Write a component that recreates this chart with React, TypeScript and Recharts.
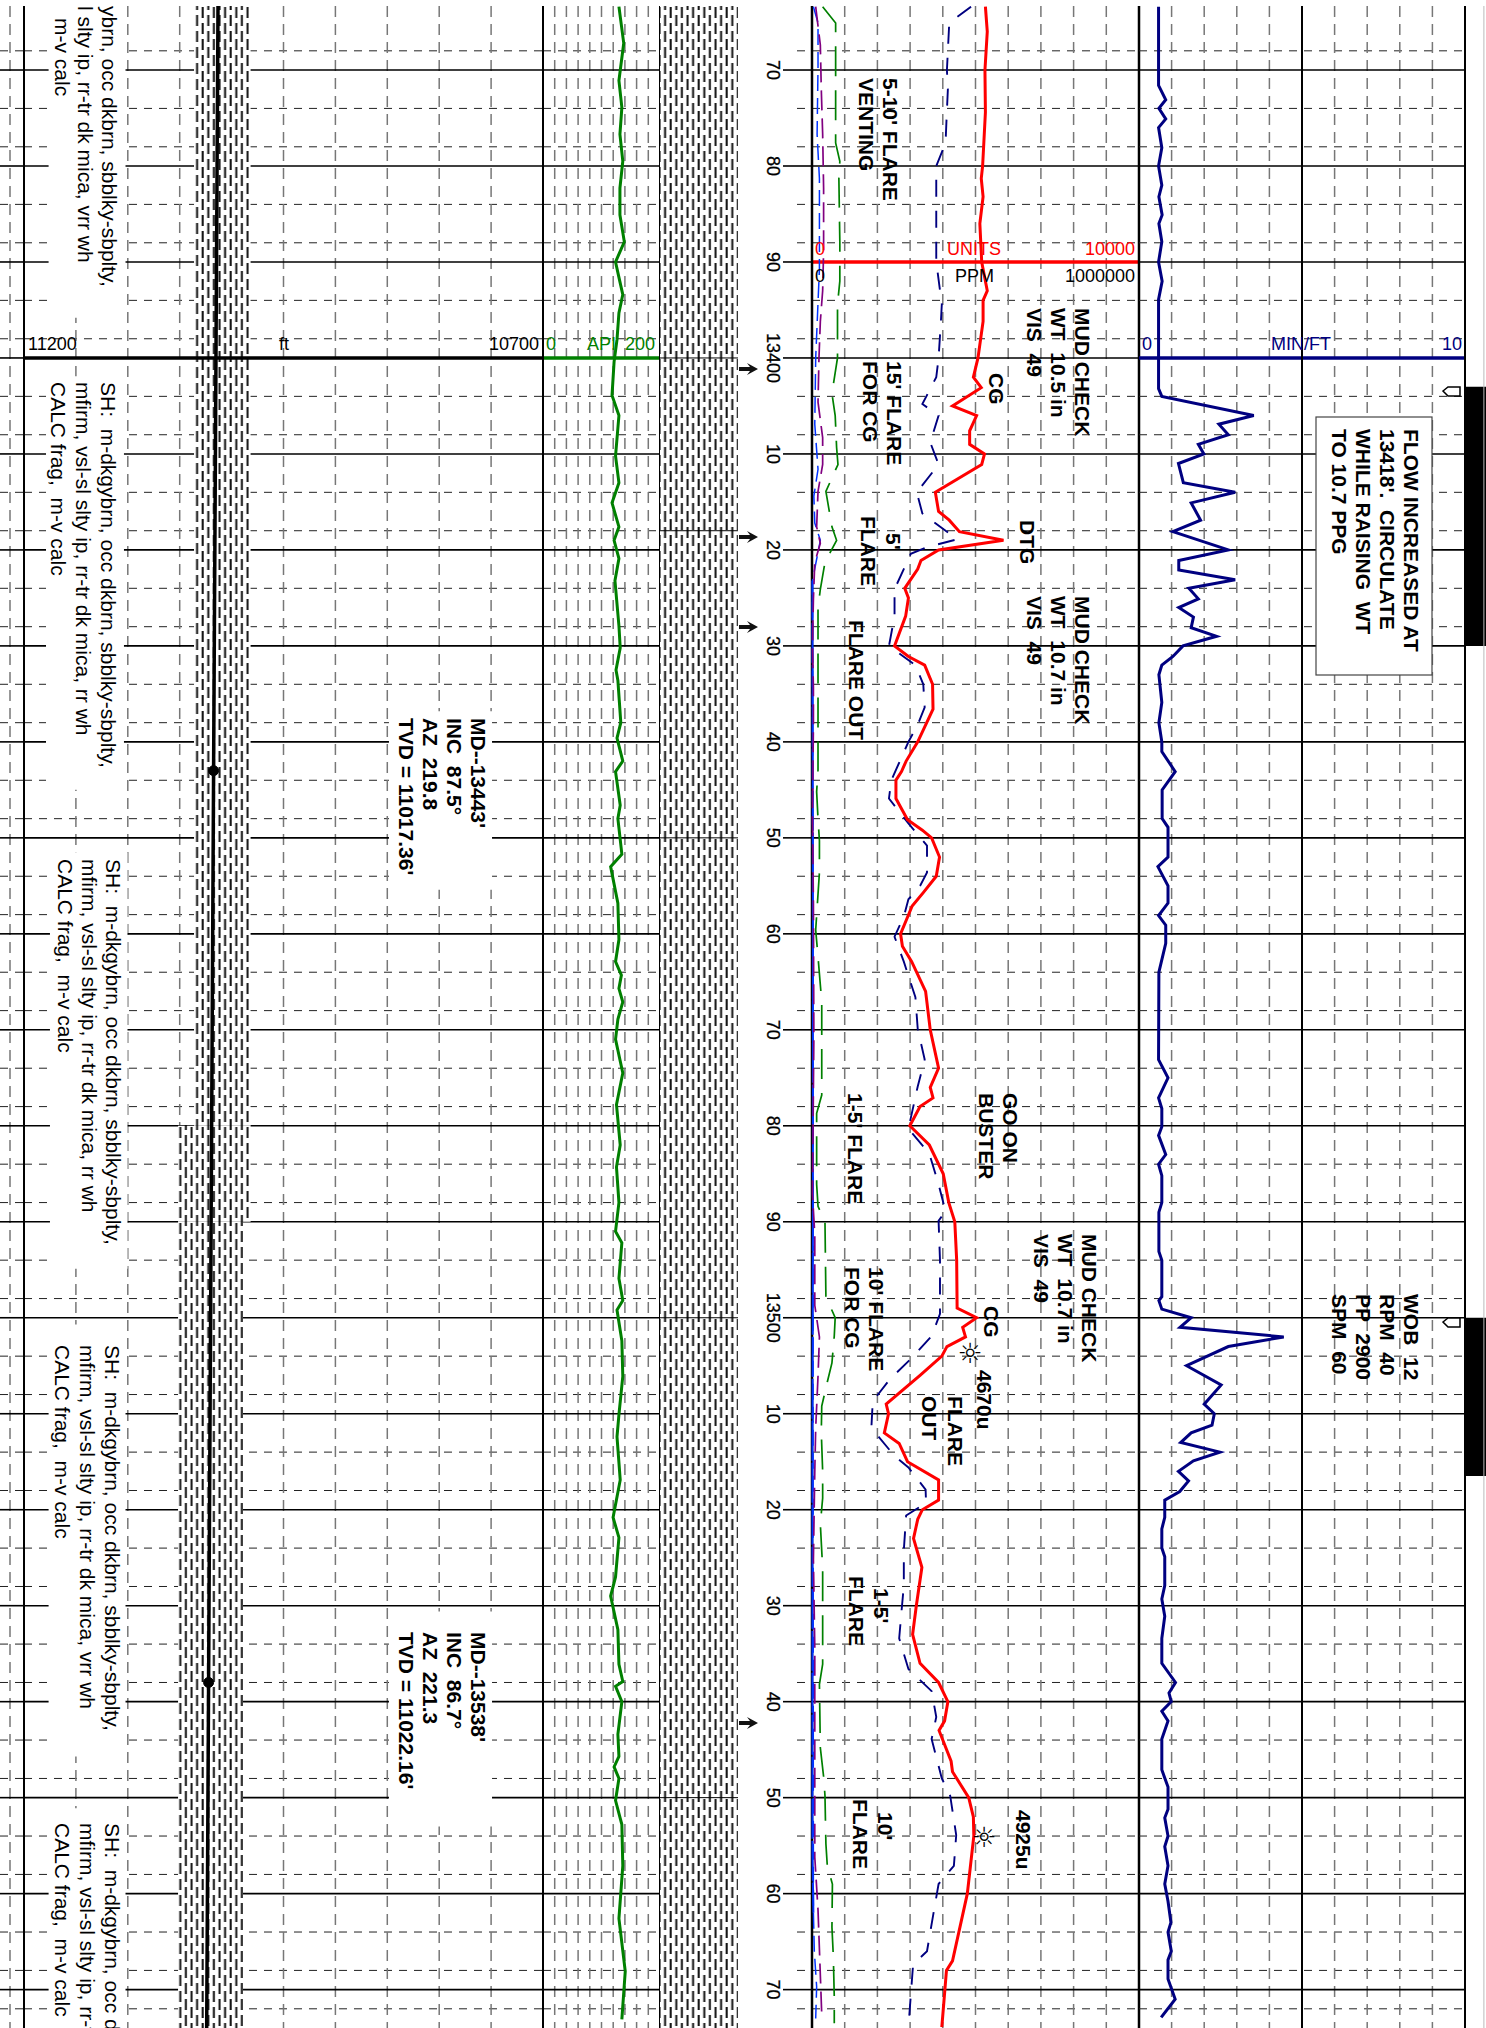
import React from 'react';
import { LineChart, Line, XAxis, YAxis, CartesianGrid, ReferenceLine, ReferenceArea } from 'recharts';

// depth window of the log strip
const DEPTH_TOP = 13363.33;
const DEPTH_BOTTOM = 13574;

const majorDepths = [13370, 13380, 13390, 13400, 13410, 13420, 13430, 13440, 13450, 13460, 13470, 13480, 13490, 13500, 13510, 13520, 13530, 13540, 13550, 13560, 13570];
const minorDepths = [13364, 13366, 13368, 13372, 13374, 13376, 13378, 13382, 13384, 13386, 13388, 13392, 13394, 13396, 13398, 13402, 13404, 13406, 13408, 13412, 13414, 13416, 13418, 13422, 13424, 13426, 13428, 13432, 13434, 13436, 13438, 13442, 13444, 13446, 13448, 13452, 13454, 13456, 13458, 13462, 13464, 13466, 13468, 13472, 13474, 13476, 13478, 13482, 13484, 13486, 13488, 13492, 13494, 13496, 13498, 13502, 13504, 13506, 13508, 13512, 13514, 13516, 13518, 13522, 13524, 13526, 13528, 13532, 13534, 13536, 13538, 13542, 13544, 13546, 13548, 13552, 13554, 13556, 13558, 13562, 13564, 13566, 13568, 13572];
const formationTops = [13400, 13418, 13450, 13500, 13550];

// total gas, units
const gasDepths = [13363.4, 13366, 13370, 13374.4, 13380, 13381.3, 13383.2, 13386, 13390, 13393, 13394, 13396.2, 13400, 13402, 13403.1, 13405, 13406, 13407.6, 13409, 13410, 13411.1, 13414, 13416, 13416.9, 13418.1, 13419, 13420, 13421.1, 13422, 13424, 13425, 13426.9, 13430, 13431.1, 13432, 13434, 13436.6, 13440, 13442, 13443.1, 13444, 13445.9, 13448.1, 13449.2, 13450, 13452, 13454, 13455.7, 13457.1, 13460, 13461.3, 13462.9, 13466, 13470, 13474, 13476, 13477.1, 13478, 13480, 13482, 13485, 13488, 13490, 13494, 13499, 13500, 13501, 13502, 13503, 13504, 13506, 13509, 13510, 13512, 13513.1, 13515, 13516.9, 13519, 13520, 13521, 13523, 13526, 13530, 13533, 13536, 13538, 13540, 13542, 13543, 13546.2, 13547.3, 13550, 13552, 13554, 13560, 13567, 13568, 13573.9];
const gasUnits = [5303, 5360, 5289, 5303, 5218, 5176, 5232, 5133, 5190, 5360, 5232, 5232, 5076, 4935, 5176, 4297, 5034, 4821, 4821, 5275, 5190, 3772, 3871, 4197, 4509, 5856, 3871, 3332, 3233, 2836, 2949, 2864, 2524, 2949, 3446, 3687, 3701, 3233, 2879, 2737, 2567, 2567, 2921, 3375, 3658, 3900, 3800, 3403, 3063, 2708, 2765, 3049, 3474, 3616, 3871, 3616, 3701, 3304, 2992, 3588, 4013, 4183, 4367, 4424, 4438, 5034, 4608, 4694, 4126, 3970, 3304, 2269, 2340, 2212, 2666, 2921, 3871, 3871, 3375, 3233, 3105, 3361, 3190, 3077, 3304, 3871, 4155, 4055, 3885, 4254, 4297, 4793, 4935, 4949, 4750, 4297, 4112, 3970];

// chromatograph curves, ppm
const navyDepths = [13363.4, 13365.1, 13370, 13372, 13375.3, 13377.6, 13380, 13390, 13394.4, 13396.2, 13400, 13402, 13404.8, 13406, 13408.8, 13411.1, 13414, 13416.2, 13418.9, 13419.7, 13420.4, 13424.1, 13426.9, 13430, 13432, 13434, 13436.4, 13438.2, 13440, 13444, 13445.9, 13448.5, 13450.8, 13453.6, 13455, 13456.4, 13458.2, 13460.3, 13462.9, 13466.6, 13469.9, 13473.1, 13475.9, 13479.2, 13480.3, 13482.9, 13486.1, 13488.9, 13489.9, 13494, 13499.6, 13501.9, 13504.3, 13506.4, 13508.7, 13511.5, 13514.4, 13515.6, 13517.9, 13519.3, 13520.6, 13524.2, 13527.9, 13530.6, 13533.4, 13536.6, 13538.9, 13541.6, 13543.9, 13548, 13549.8, 13553.9, 13557.1, 13559, 13562.6, 13566, 13567.4, 13573.9];
const navyPpm = [486400, 419700, 412600, 415500, 411200, 408400, 380000, 380000, 397000, 394200, 387100, 380000, 337500, 387100, 361600, 387100, 320500, 337500, 443800, 351700, 302000, 252400, 252400, 235400, 316200, 340300, 344600, 323300, 294900, 242500, 235400, 294900, 351700, 351700, 330400, 294900, 280800, 252400, 280800, 316200, 323300, 344600, 323300, 302000, 294900, 358800, 387100, 408400, 387100, 391400, 391400, 365800, 302000, 238200, 185800, 181500, 252400, 294900, 347400, 348800, 287900, 280800, 280800, 273700, 266600, 294900, 365800, 380000, 365800, 397000, 422600, 441000, 433900, 387100, 368700, 351700, 309100, 294900];

const greenDepths = [13363.4, 13365.1, 13370, 13377.6, 13379.5, 13381.3, 13387.9, 13392, 13394.4, 13400, 13403.7, 13406, 13409.3, 13411.1, 13413.9, 13417.6, 13419, 13421.3, 13424.1, 13426, 13434.4, 13442.9, 13445.2, 13448, 13450.3, 13453.6, 13459.6, 13462.4, 13467.1, 13476.8, 13478.7, 13486.1, 13488.4, 13490, 13497.8, 13500, 13501.9, 13504.7, 13506.7, 13509.2, 13511.9, 13516, 13518.8, 13521.5, 13526.1, 13536.1, 13538.2, 13544.8, 13547.8, 13549.8, 13554.8, 13557.1, 13559, 13563.5, 13566.5, 13570.8, 13573.5];
const greenPpm = [32600, 72300, 72300, 72300, 85100, 82200, 85100, 85100, 78000, 78000, 61000, 70900, 75200, 79400, 42500, 61000, 75200, 39700, 25500, 18400, 18400, 18400, 14200, 18400, 22700, 22700, 11300, 18400, 29800, 29800, 14200, 14200, 18400, 39700, 42500, 70900, 68100, 61000, 46800, 29800, 28400, 32600, 32600, 25500, 32600, 32600, 22700, 25500, 35500, 39700, 42500, 46800, 62400, 61000, 65200, 68100, 68100];

const purpleDepths = [13363.4, 13367.4, 13372, 13376.7, 13382.3, 13388.8, 13393, 13396.2, 13400, 13404.6, 13408.3, 13411.1, 13413.9, 13417.6, 13419.3, 13421.3, 13425.1, 13430, 13434.4, 13438.2, 13447.5, 13456.8, 13470.8, 13487.1, 13491.3, 13498.7, 13502, 13506.1, 13511.5, 13516, 13525.2, 13534.3, 13556.2, 13561.7, 13568.5, 13572.6];
const purplePpm = [11300, 25500, 28400, 32600, 35500, 35500, 32600, 25500, 21300, 18400, 32600, 32600, 18400, 14200, 25500, 8500, 4300, 1400, 4300, 4300, 1400, 4300, 5700, 1400, 8500, 8500, 22700, 18400, 11300, 8500, 4300, 8500, 8500, 18400, 25500, 29800];

const blueDepths = [13363.4, 13365.1, 13369.7, 13376.7, 13381.3, 13390.7, 13400, 13406.9, 13411.6, 13414.4, 13417.2, 13419, 13423.2, 13423.3, 13562, 13566, 13569.7, 13573];
const bluePpm = [4300, 18400, 18400, 15600, 22700, 22700, 11300, 8500, 18400, 5700, 8500, 25500, 1400, null, 4300, 7100, 14200, 11300];
const baseBlueDepths = [13423.2, 13455, 13490, 13515, 13556, 13562];
const baseBluePpm = [1400, 2800, 2800, 1400, 1400, 4300];

// rate of penetration, min/ft
const ropDepths = [13363.4, 13371.6, 13373.1, 13374, 13375.1, 13376, 13378.1, 13380, 13382, 13383.2, 13385.1, 13386, 13387.9, 13390, 13392, 13393.9, 13403.2, 13404, 13406, 13406.9, 13408, 13409, 13410, 13411, 13413, 13414, 13415.1, 13416.9, 13418.1, 13420, 13421.1, 13422.1, 13423.1, 13424, 13425.1, 13426, 13427, 13428.1, 13429, 13430, 13431.1, 13432, 13433, 13435.9, 13438, 13440, 13441, 13443.1, 13445, 13448, 13448.9, 13452, 13453, 13455, 13456.8, 13458.1, 13459.1, 13461, 13464, 13473.1, 13475, 13477.1, 13478.2, 13480.1, 13481, 13483, 13484, 13485.2, 13488, 13489, 13493.1, 13494, 13497.8, 13498.2, 13499.1, 13500, 13501, 13502, 13503, 13505, 13507, 13509, 13510, 13511.2, 13512, 13513, 13514, 13514.9, 13516, 13517, 13518.1, 13519, 13520.8, 13522, 13524, 13524.9, 13527.9, 13529.3, 13531.1, 13533.4, 13536, 13538, 13539.1, 13540, 13541, 13542, 13543.9, 13547.1, 13548.9, 13551.2, 13552.1, 13554, 13555.1, 13557.1, 13559, 13560.8, 13563, 13564, 13566, 13566.9, 13568.9, 13571, 13572.9];
const ropValues = [0.6, 0.6, 0.82, 0.61, 0.82, 0.6, 0.7, 0.6, 0.7, 0.61, 0.71, 0.61, 0.7, 0.6, 0.71, 0.6, 0.6, 0.7, 3.52, 2.45, 2.74, 1.82, 1.99, 1.21, 1.36, 2.95, 1.6, 1.89, 1.04, 2.74, 1.22, 1.22, 2.95, 1.53, 1.82, 1.22, 1.67, 1.6, 2.38, 1.35, 1.04, 0.7, 0.61, 0.7, 0.61, 0.7, 0.7, 1.11, 0.71, 0.71, 0.89, 0.89, 0.58, 0.89, 0.89, 0.6, 0.82, 0.82, 0.61, 0.6, 0.89, 0.6, 0.7, 0.7, 0.6, 0.82, 0.6, 0.7, 0.7, 0.61, 0.61, 0.7, 0.7, 0.61, 0.7, 1.6, 1.26, 4.44, 2.74, 1.46, 2.52, 2.0, 2.31, 2.24, 1.6, 1.28, 2.48, 1.67, 1.21, 1.52, 1.25, 0.79, 0.79, 0.7, 0.7, 0.79, 0.79, 0.7, 0.79, 0.7, 0.7, 1.12, 0.92, 0.99, 0.7, 0.89, 0.7, 0.7, 0.89, 0.89, 0.79, 0.89, 0.79, 0.89, 0.79, 0.89, 0.98, 0.89, 0.99, 0.89, 0.89, 1.11, 0.68];

// gamma ray, API
const gammaDepths = [13363.4, 13367.2, 13371.1, 13373.9, 13376.7, 13379.5, 13382.3, 13385.1, 13387.9, 13390, 13391.6, 13393.4, 13395.3, 13398.1, 13400.4, 13403.9, 13406, 13410.2, 13413, 13415.1, 13417.6, 13419, 13420.9, 13423.2, 13427.9, 13430.2, 13432.5, 13433.6, 13438, 13439.6, 13442, 13443.1, 13446.6, 13448, 13451.7, 13453, 13456.8, 13460.6, 13462.9, 13464.3, 13465.7, 13467.1, 13468.9, 13471, 13474.5, 13477.8, 13482, 13484.3, 13488, 13491, 13492.2, 13495.9, 13498.2, 13499.2, 13502.4, 13506.1, 13510.1, 13512.4, 13516.9, 13520.8, 13522.9, 13527, 13529, 13532.5, 13536.1, 13537.9, 13538.4, 13540, 13543.4, 13545.7, 13546.8, 13548, 13550.3, 13552.8, 13557.1, 13562.6, 13568.1, 13573.1];
const gammaApi = [129.8, 138, 129.8, 134.8, 131.5, 136.4, 131.5, 131.5, 139, 124, 129.8, 136.4, 129.8, 126.5, 121.5, 118, 129.8, 124, 129.8, 118, 129.8, 121.5, 129.8, 123, 129.8, 132, 124.8, 128, 133, 126.5, 136.4, 124, 132, 128, 134.8, 115.6, 128, 129.8, 124, 134, 129.8, 136.4, 128, 124, 136.4, 125.6, 132, 125.6, 129.8, 124, 134.8, 129.8, 136.4, 126.5, 134.8, 136.4, 129.8, 126.5, 132, 119.8, 129.8, 124, 115.6, 128, 129.8, 136.4, 124, 134.8, 128, 129.8, 121.5, 129.8, 124, 134.8, 136.4, 129.8, 140.6, 134.8];

// well path, true vertical depth against measured depth
const pathDepths = [13363.33, 13443, 13538, 13574];
const pathTvd = [11013.1, 11017.36, 11022.16, 11024];
const surveyDepths = [13443, 13538];
const surveyTvd = [11017.36, 11022.16];

const toRows = (depths: number[], values: (number | null)[]) => depths.map((depth, i) => ({ depth, value: values[i] }));

const Track = ({ left, width, domain, reversed, verticals, minor = true, major = true, children }: any) => {
  const pad = 3;
  return (
    <div style={{ position: 'absolute', left: left - pad, top: 6 }}>
      <LineChart width={width + pad * 2} height={2022} layout="vertical" margin={{ top: 0, bottom: 0, left: pad, right: pad }}>
        <defs>
          <pattern id="shale" width="11.2" height="16" patternUnits="userSpaceOnUse">
            <rect width="11.2" height="16" fill="#fff" />
            <rect x="1.5" y="1" width="2" height="11" fill="#111" />
            <rect x="7.1" y="9" width="2" height="11" fill="#111" />
            <rect x="7.1" y="-7" width="2" height="11" fill="#111" />
          </pattern>
        </defs>
        <XAxis type="number" domain={domain} reversed={reversed} hide interval={0} allowDataOverflow />
        <YAxis type="number" dataKey="depth" domain={[DEPTH_TOP, DEPTH_BOTTOM]} hide allowDataOverflow />
        {minor && <CartesianGrid vertical={false} horizontalValues={minorDepths} stroke="#222" strokeDasharray="8 7" />}
        {verticals && <CartesianGrid horizontal={false} verticalValues={verticals} stroke="#777" strokeWidth={1.5} strokeDasharray="11 7" />}
        {major && <CartesianGrid vertical={false} horizontalValues={majorDepths} stroke="#000" strokeWidth={1.6} />}
        {children}
      </LineChart>
    </div>
  );
};

const Note = ({ x, y, lines, size = 21, gap = 24, bold = true, color = '#000' }: any) => (
  <text transform={`translate(${x} ${y}) rotate(90)`} fontFamily="'Liberation Sans'" fontSize={size} fontWeight={bold ? 700 : 400} fill={color} xmlSpace="preserve">
    {lines.map((line: string, i: number) => (
      <tspan key={i} x={0} y={i * gap}>{line}</tspan>
    ))}
  </text>
);

const Head = ({ x, y, color = '#000', anchor = 'start', children }: any) => (
  <text x={x} y={y} fill={color} textAnchor={anchor} fontFamily="'Liberation Sans'" fontSize={18}>{children}</text>
);

const depthLabel = (d: number) => (d % 100 === 0 ? String(d) : String(d % 100));

const DepthTick = ({ y, payload }: any) => (
  <text transform={`translate(25 ${y}) rotate(90)`} textAnchor="middle" fontFamily="'Liberation Sans'" fontSize={18} fill="#000" stroke="#000" strokeWidth={0.3}>
    {depthLabel(payload.value)}
  </text>
);

const lithoLines = ['SH:  m-dkgybrn, occ dkbrn, sbblky-sbplty,', 'mfirm, vsl-sl slty ip, rr-tr dk mica, rr wh', 'CALC frag,  m-v calc'];
const lithoLinesVrr = ['SH:  m-dkgybrn, occ dkbrn, sbblky-sbplty,', 'mfirm, vsl-sl slty ip, rr-tr dk mica, vrr wh', 'CALC frag,  m-v calc'];

export default function App() {
  return (
    <div style={{ position: 'absolute', left: 0, top: 0, width: 1486, height: 2028, background: '#fff', overflow: 'hidden' }}>
      {/* stub of the track cut off on the left */}
      <Track left={0} width={24} domain={[0, 24]} verticals={[10]} />

      {/* lithology and well path */}
      <Track left={24} width={519} domain={[10700, 11200]} reversed verticals={[11150, 11100, 11050, 11000, 10950, 10900, 10850, 10800, 10750]}>
        <ReferenceArea x1={11176.3} x2={11102.2} y1={DEPTH_TOP} y2={13395.8} fill="#fff" fillOpacity={1} />
        <ReferenceArea x1={11178.8} x2={11103.7} y1={13401.9} y2={13445} fill="#fff" fillOpacity={1} />
        <ReferenceArea x1={11175} x2={11100.3} y1={13451.5} y2={13494.9} fill="#fff" fillOpacity={1} />
        <ReferenceArea x1={11176.3} x2={11102.2} y1={13500.7} y2={13545.7} fill="#fff" fillOpacity={1} />
        <ReferenceArea x1={11176.3} x2={11102.2} y1={13551.1} y2={DEPTH_BOTTOM} fill="#fff" fillOpacity={1} />
        <ReferenceArea x1={10848.4} x2={10749.1} y1={13436.8} y2={13455.4} fill="#fff" fillOpacity={1} />
        <ReferenceArea x1={10848.4} x2={10749.1} y1={13530.6} y2={13553} fill="#fff" fillOpacity={1} />
        <ReferenceArea x1={11036.2} x2={10981.7} y1={DEPTH_TOP} y2={13480} fill="url(#shale)" fillOpacity={1} />
        <ReferenceArea x1={11051.6} x2={10981.7} y1={13480} y2={13490} fill="url(#shale)" fillOpacity={1} />
        <ReferenceArea x1={11051.6} x2={10989} y1={13490} y2={DEPTH_BOTTOM} fill="url(#shale)" fillOpacity={1} />
        <ReferenceLine y={13400} stroke="#000" strokeWidth={3.5} />
        <ReferenceLine x={11200} stroke="#000" strokeWidth={2} />
        <ReferenceLine x={10700} stroke="#000" strokeWidth={2} />
        <Line data={toRows(pathDepths, pathTvd)} dataKey="value" stroke="#000" strokeWidth={3.5} dot={false} isAnimationActive={false} />
        <Line data={toRows(surveyDepths, surveyTvd)} dataKey="value" stroke="none" dot={{ r: 5, fill: '#000', stroke: '#000' }} isAnimationActive={false} />
      </Track>

      {/* gamma ray */}
      <Track left={543} width={117} domain={[0, 200]} verticals={[20, 40, 60, 80, 100, 120, 140, 160, 180]}>
        <ReferenceLine y={13400} stroke="#008000" strokeWidth={3.5} />
        <ReferenceLine x={0} stroke="#000" strokeWidth={2} />
        <ReferenceLine x={200} stroke="#000" strokeWidth={2} />
        <Line data={toRows(gammaDepths, gammaApi)} dataKey="value" stroke="#008000" strokeWidth={3} dot={false} isAnimationActive={false} />
      </Track>

      {/* second shale column */}
      <Track left={660} width={78} domain={[0, 1]} minor={false} major={false}>
        <ReferenceArea x1={0} x2={1} y1={DEPTH_TOP} y2={DEPTH_BOTTOM} fill="url(#shale)" fillOpacity={1} />
        {formationTops.map((d) => <ReferenceLine key={d} y={d} stroke="#000" strokeWidth={1} />)}
      </Track>

      {/* depth column */}
      <Track left={783} width={29} domain={[0, 1]} minor={false} />
      <Track left={797} width={15} domain={[0, 1]} major={false} />
      <div style={{ position: 'absolute', left: 742, top: 6 }}>
        <LineChart width={60} height={2022} layout="vertical" margin={{ top: 0, bottom: 0, left: 0, right: 0 }}>
          <XAxis type="number" domain={[0, 1]} hide />
          <YAxis
            type="number"
            dataKey="depth"
            domain={[DEPTH_TOP, DEPTH_BOTTOM]}
            allowDataOverflow
            ticks={majorDepths}
            interval={0}
            axisLine={false}
            tickLine={false}
            width={60}
            tick={<DepthTick />}
          />
        </LineChart>
      </div>

      {/* gas */}
      <Track left={812} width={327} domain={[0, 10000]} verticals={[1000, 2000, 3000, 4000, 5000, 6000, 7000, 8000, 9000]}>
        <XAxis xAxisId="ppm" type="number" domain={[0, 1000000]} hide />
        <ReferenceLine y={13390} stroke="#ff0000" strokeWidth={3.5} />
        <ReferenceLine x={0} stroke="#000" strokeWidth={2.5} />
        <ReferenceLine x={10000} stroke="#000" strokeWidth={2.5} />
        <Line xAxisId="ppm" data={toRows(baseBlueDepths, baseBluePpm)} dataKey="value" stroke="#0033ff" strokeWidth={2} strokeDasharray="40 2" dot={false} isAnimationActive={false} />
        <Line xAxisId="ppm" data={toRows(blueDepths, bluePpm)} dataKey="value" stroke="#0033ff" strokeWidth={1.5} strokeDasharray="16 7" dot={false} isAnimationActive={false} />
        <Line xAxisId="ppm" data={toRows(purpleDepths, purplePpm)} dataKey="value" stroke="#800080" strokeWidth={1.7} strokeDasharray="20 8" dot={false} isAnimationActive={false} />
        <Line xAxisId="ppm" data={toRows(greenDepths, greenPpm)} dataKey="value" stroke="#008000" strokeWidth={1.7} strokeDasharray="30 14" dot={false} isAnimationActive={false} />
        <Line xAxisId="ppm" data={toRows(navyDepths, navyPpm)} dataKey="value" stroke="#000080" strokeWidth={1.9} strokeDasharray="17 14" dot={false} isAnimationActive={false} />
        <Line data={toRows(gasDepths, gasUnits)} dataKey="value" stroke="#ff0000" strokeWidth={3} dot={false} isAnimationActive={false} />
      </Track>

      {/* rate of penetration */}
      <Track left={1139} width={326} domain={[0, 10]} verticals={[1, 2, 3, 4, 6, 7, 8, 9]}>
        <ReferenceLine y={13400} stroke="#000080" strokeWidth={3.5} />
        <ReferenceLine x={5} stroke="#000" strokeWidth={2} />
        <ReferenceLine x={10} stroke="#000" strokeWidth={2} />
        <Line data={toRows(ropDepths, ropValues)} dataKey="value" stroke="#000080" strokeWidth={3} dot={false} isAnimationActive={false} />
      </Track>

      {/* pump status strip */}
      <Track left={1465} width={21} domain={[0, 1]} minor={false} major={false}>
        <ReferenceLine x={0.9} stroke="#bbb" strokeWidth={1} />
        <ReferenceArea x1={0} x2={1} y1={13403} y2={13430} fill="#000" fillOpacity={1} />
        <ReferenceArea x1={0} x2={1} y1={13500} y2={13516.5} fill="#000" fillOpacity={1} />
      </Track>

      <svg width={1486} height={2028} style={{ position: 'absolute', left: 0, top: 0 }}>
        <Head x={28} y={350}>11200</Head>
        <Head x={279} y={350}>ft</Head>
        <Head x={489} y={350}>10700</Head>
        <Head x={546} y={350} color="#008000">0</Head>
        <Head x={587} y={350} color="#008000">API</Head>
        <Head x={625} y={350} color="#008000">200</Head>
        <Head x={815} y={255} color="#ff0000">0</Head>
        <Head x={947} y={255} color="#ff0000">UNITS</Head>
        <Head x={1135} y={255} color="#ff0000" anchor="end">10000</Head>
        <Head x={815} y={282}>0</Head>
        <Head x={955} y={282}>PPM</Head>
        <Head x={1135} y={282} anchor="end">1000000</Head>
        <Head x={1142} y={350} color="#000080">0</Head>
        <Head x={1271} y={350} color="#000080">MIN/FT</Head>
        <Head x={1462} y={350} color="#000080" anchor="end">10</Head>

        <Note x={102} y={6} size={21} bold={false} lines={['ybrn, occ dkbrn, sbblky-sbplty,', 'l slty ip, rr-tr dk mica, vrr wh']} />
        <Note x={55} y={18} size={21} bold={false} lines={['m-v calc']} />
        <Note x={101} y={382} size={21} bold={false} gap={25} lines={lithoLines} />
        <Note x={106} y={859} size={21} bold={false} lines={lithoLines} />
        <Note x={105} y={1345} size={21} bold={false} gap={25} lines={lithoLinesVrr} />
        <Note x={105} y={1823} size={21} bold={false} gap={25} lines={lithoLines} />

        <Note x={471} y={718} size={21} lines={['MD--13443\'', 'INC  87.5°', 'AZ  219.8', 'TVD = 11017.36\'']} />
        <Note x={471} y={1632} size={21} lines={['MD--13538\'', 'INC  86.7°', 'AZ  221.3', 'TVD = 11022.16\'']} />

        <Note x={883} y={78} lines={['5-10\' FLARE', 'VENTING']} />
        <Note x={887} y={361} lines={['15\' FLARE', 'FOR CG']} />
        <Note x={989} y={373} lines={['CG']} />
        <Note x={1075} y={308} lines={['MUD CHECK', 'WT  10.5 in', 'VIS  49']} />
        <Note x={1020} y={520} lines={['DTG']} />
        <Note x={886} y={533} lines={['5\'']} />
        <Note x={861} y={516} lines={['FLARE']} />
        <Note x={849} y={620} lines={['FLARE OUT']} />
        <Note x={1075} y={596} lines={['MUD CHECK', 'WT  10.7 in', 'VIS  49']} />
        <Note x={848} y={1093} lines={['1-5\' FLARE']} />
        <Note x={1003} y={1093} lines={['GO ON', 'BUSTER']} />
        <Note x={1082} y={1234} lines={['MUD CHECK', 'WT  10.7 in', 'VIS  49']} />
        <Note x={869} y={1267} lines={['10\' FLARE', 'FOR CG']} />
        <Note x={984} y={1306} lines={['CG']} />
        <Note x={977} y={1370} lines={['4670u']} />
        <Note x={948} y={1396} gap={26} lines={['FLARE', 'OUT']} />
        <Note x={1016} y={1810} lines={['4925u']} />
        <Note x={874} y={1588} lines={['1-5\'']} />
        <Note x={849} y={1576} lines={['FLARE']} />
        <Note x={878} y={1812} lines={['10\'']} />
        <Note x={853} y={1799} lines={['FLARE']} />
        <Note x={1404} y={1294} lines={['WOB  12', 'RPM  40', 'PP  2900', 'SPM  60']} />

        <rect x={1316} y={417} width={116} height={258} fill="#fff" stroke="#444" strokeWidth={1.2} />
        <Note x={1404} y={429} lines={['FLOW INCREASED AT', '13418\'.  CIRCULATE', 'WHILE RAISING  WT', 'TO 10.7 PPG']} />

        <text x={970} y={1363} textAnchor="middle" fontFamily="'DejaVu Sans'" fontWeight={700} fontSize={28}>☼</text>
        <text x={984} y={1847} textAnchor="middle" fontFamily="'DejaVu Sans'" fontWeight={700} fontSize={28}>☼</text>

        {[369, 537, 627, 1723].map((y) => (
          <path key={y} d={`M739 ${y - 2}h11l-3 -4l11 6l-11 6l3 -4h-11z`} fill="#111" />
        ))}
        {[387, 1318].map((y) => (
          <path key={y} d={`M1443 ${y + 4}l5 -4h12v9h-12z`} fill="#fff" stroke="#000" strokeWidth={1.5} />
        ))}
      </svg>
    </div>
  );
}
